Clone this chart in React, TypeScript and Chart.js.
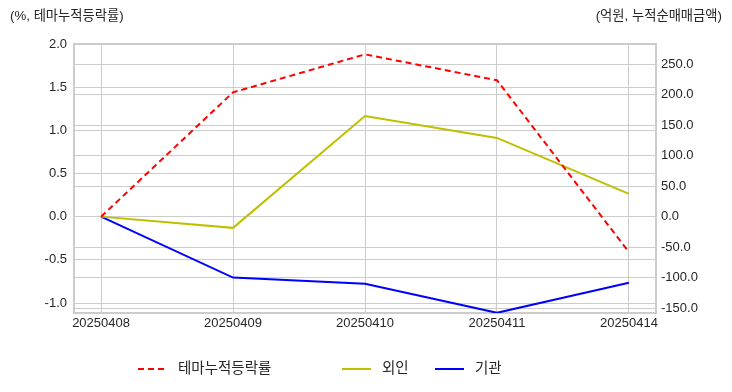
import React, { useEffect, useRef } from "react";
import { Chart, registerables } from "chart.js";

Chart.register(...registerables);

const categories = ["20250408", "20250409", "20250410", "20250411", "20250414"];
const themeReturn = [0.0, 1.44, 1.88, 1.58, -0.41];
const foreignNet = [0.0, -18.4, 165.0, 129.0, 37.4];
const instNet = [0.0, -100.0, -110.0, -157.7, -108.5];
const leftTicks = [-1.0, -0.5, 0.0, 0.5, 1.0, 1.5, 2.0];
const rightTicks = [-150, -100, -50, 0, 50, 100, 150, 200, 250];
const seriesNames = ["테마누적등락률", "외인", "기관"];
const leftTitle = "(%, 테마누적등락률)";
const rightTitle = "(억원, 누적순매매금액)";

const FONT = '"Liberation Sans", Arial, "Noto Sans CJK KR", sans-serif';
const TEXT = "#262626";
const GRID = "#cccccc";

export default function App() {
  const ref = useRef<HTMLCanvasElement | null>(null);
  useEffect(() => {
    if (!ref.current) return;
    const colors = ["#ff0000", "#bfbf00", "#0000ff"];
    const dashes = [[6, 4], [], []];
    const overlay = {
      id: "overlay",
      beforeDatasetsDraw(chart: any) {
        const { ctx, chartArea: a } = chart;
        ctx.save();
        ctx.strokeStyle = GRID;
        ctx.lineWidth = 2;
        ctx.strokeRect(a.left, a.top, a.right - a.left, a.bottom - a.top);
        ctx.restore();
      },
      afterDraw(chart: any) {
        const { ctx } = chart;
        ctx.save();
        ctx.fillStyle = TEXT;
        ctx.font = `13.3px ${FONT}`;
        ctx.textBaseline = "middle";
        ctx.textAlign = "left";
        ctx.fillText(leftTitle, 10, 16);
        ctx.textAlign = "right";
        ctx.fillText(rightTitle, 722, 16);
        // legend
        const y = 369;
        const xs = [138, 342, 435];
        ctx.font = `14.5px ${FONT}`;
        ctx.textAlign = "left";
        seriesNames.forEach((name, i) => {
          ctx.beginPath();
          ctx.strokeStyle = colors[i];
          ctx.lineWidth = 2;
          ctx.setLineDash(dashes[i]);
          ctx.moveTo(xs[i], y);
          ctx.lineTo(xs[i] + 29, y);
          ctx.stroke();
          ctx.setLineDash([]);
          ctx.fillStyle = TEXT;
          ctx.fillText(name, xs[i] + 40, y);
        });
        ctx.restore();
      },
    };
    const chart = new Chart(ref.current, {
      type: "line",
      data: {
        datasets: [
          {
            label: seriesNames[0],
            data: themeReturn.map((v, i) => ({ x: i, y: v })),
            borderColor: colors[0],
            borderDash: [6, 4],
            borderWidth: 2,
            pointRadius: 0,
            yAxisID: "y",
          },
          {
            label: seriesNames[1],
            data: foreignNet.map((v, i) => ({ x: i, y: v })),
            borderColor: colors[1],
            borderWidth: 2,
            pointRadius: 0,
            yAxisID: "y1",
          },
          {
            label: seriesNames[2],
            data: instNet.map((v, i) => ({ x: i, y: v })),
            borderColor: colors[2],
            borderWidth: 2,
            pointRadius: 0,
            yAxisID: "y1",
          },
        ],
      },
      options: {
        animation: false,
        responsive: true,
        maintainAspectRatio: false,
        layout: { padding: { top: 44, bottom: 54, left: 0, right: 0 } },
        plugins: { legend: { display: false }, tooltip: { enabled: false } },
        scales: {
          x: {
            type: "linear",
            min: -0.205,
            max: 4.205,
            afterBuildTicks: (s: any) => {
              s.ticks = categories.map((_, i) => ({ value: i }));
            },
            afterFit: (s: any) => {
              s.height = 25;
            },
            ticks: {
              callback: (v: any) => categories[v] ?? "",
              color: TEXT,
              font: { family: FONT, size: 13 },
              padding: 3,
              maxRotation: 0,
              autoSkip: false,
            },
            grid: { color: GRID, lineWidth: 1, drawTicks: false },
            border: { display: false },
          },
          y: {
            position: "left",
            min: -1.115,
            max: 2.0,
            afterBuildTicks: (s: any) => {
              s.ticks = leftTicks.map((v) => ({ value: v }));
            },
            afterFit: (s: any) => {
              s.width = 74;
            },
            ticks: {
              callback: (v: any) => Number(v).toFixed(1),
              color: TEXT,
              font: { family: FONT, size: 13 },
              padding: 7,
            },
            grid: { color: GRID, lineWidth: 1, drawTicks: false },
            border: { display: false },
          },
          y1: {
            position: "right",
            min: -158,
            max: 283,
            afterBuildTicks: (s: any) => {
              s.ticks = rightTicks.map((v) => ({ value: v }));
            },
            afterFit: (s: any) => {
              s.width = 76;
            },
            ticks: {
              callback: (v: any) => Number(v).toFixed(1),
              color: TEXT,
              font: { family: FONT, size: 13 },
              padding: 5,
            },
            grid: { color: GRID, lineWidth: 1, drawTicks: false },
            border: { display: false },
          },
        },
      },
      plugins: [overlay],
    } as any);
    return () => chart.destroy();
  }, []);
  return (
    <div style={{ position: "fixed", left: 0, top: 0, width: 732, height: 392, background: "#fff" }}>
      <canvas ref={ref} />
    </div>
  );
}
